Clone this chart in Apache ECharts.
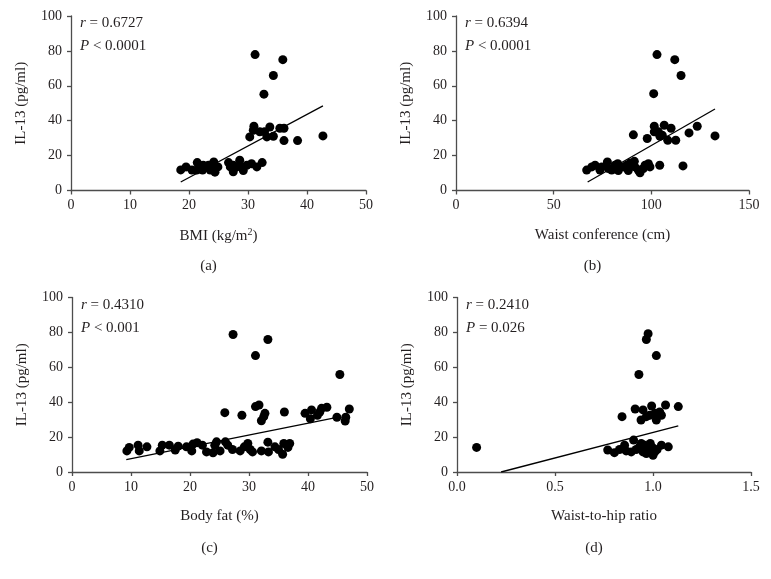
<!DOCTYPE html>
<html>
<head>
<meta charset="utf-8">
<script src="https://cdn.jsdelivr.net/npm/echarts@6/dist/echarts.min.js"></script>
<style>html,body{margin:0;padding:0;background:#fff}#c{width:771px;height:579px}</style>
</head>
<body>
<div id="c"></div>
<script>
// ---- Data ----
const bmiX = [31.2,35.9,34.3,32.7,42.7,38.4,36.1,36.1,35.4,33.7,33.2,34.3,31.0,30.9,30.3,32.0,32.8,
  18.6,19.5,20.5,21.4,21.3,22.3,22.4,23.3,23.6,24.2,24.2,24.4,24.9,26.7,27.0,27.5,28.1,28.6,28.9,29.2,29.8,30.6,31.5,32.4,27.5];
const bmiY = [77.9,75.0,65.9,55.2,31.3,28.6,28.6,35.7,35.7,36.4,30.7,31.1,36.8,34.5,30.7,33.6,33.6,
  11.8,13.5,11.7,16.0,11.7,11.7,14.5,14.5,11.7,16.4,11.7,10.5,13.5,16.0,13.5,10.7,13.5,17.4,13.5,11.4,14.5,15.3,13.5,16.0,14.5];
const bmiTrend = [[18.6,4.9],[42.7,48.5]];

const waistX = [102.9,112.0,115.2,101.2,132.6,123.5,119.3,112.5,108.4,110.1,106.6,101.5,101.5,103.6,104.4,105.6,90.8,97.9,104.3,116.2,
  66.9,69.5,71.2,73.7,74.6,77.5,78.0,79.7,81.4,82.8,83.1,85.7,88.2,89.1,91.3,91.6,93.3,94.2,95.9,96.8,98.5,99.3,87.4];
const waistY = [77.9,75.0,65.9,55.5,31.3,36.8,33.0,28.8,28.8,35.7,37.4,36.8,33.6,33.6,31.1,31.7,31.9,29.8,14.5,14.1,
  11.7,13.5,14.5,11.7,13.5,16.4,12.6,11.7,14.5,15.3,11.4,13.5,11.4,15.7,16.7,13.5,11.7,10.2,12.6,14.5,15.3,13.5,14.5];
const waistTrend = [[67.4,4.9],[132.6,46.7]];

const fatX = [27.3,33.2,31.1,45.4,31.1,31.7,25.9,28.8,32.7,32.5,32.1,36.0,39.5,40.6,40.4,41.6,42.3,43.2,42.0,44.9,46.4,46.3,47.0,
  9.3,9.7,11.2,11.4,12.7,14.9,15.3,16.5,17.5,18.0,19.4,20.3,20.5,21.2,22.1,22.8,23.9,24.2,24.5,25.1,26.0,26.4,27.2,28.5,29.2,29.8,30.2,30.6,32.1,33.3,33.2,34.4,35.0,35.7,35.9,36.9,36.6];
const fatY = [78.8,75.9,66.7,55.9,37.5,38.4,34.0,32.5,33.6,31.7,29.4,34.4,33.6,35.6,30.5,32.5,36.5,37.1,34.4,31.4,31.4,29.2,36.1,
  12.1,14.1,15.4,12.1,14.4,12.1,15.4,15.4,12.6,14.8,14.4,12.1,16.0,16.8,15.4,11.5,11.0,15.4,17.3,12.1,17.3,15.4,12.9,12.1,14.4,16.3,12.9,11.5,12.1,11.5,17.1,14.4,12.9,10.2,16.3,16.3,14.1];
const fatTrend = [[9.2,7.1],[44.3,30.9]];

const whrX = [0.10,0.975,0.966,1.017,0.928,1.129,1.064,0.993,0.909,0.949,0.842,0.939,0.983,1.010,1.034,1.017,1.043,0.966,
  0.769,0.803,0.829,0.855,0.863,0.889,0.901,0.914,0.931,0.949,0.957,0.966,0.974,0.986,0.996,1.009,1.021,1.043,1.078,0.940,1.000];
const whrY = [14.1,79.2,75.9,66.7,55.9,37.5,38.4,37.8,36.1,35.6,31.7,29.8,32.5,33.6,34.4,29.8,32.5,31.7,
  12.6,11.1,12.9,15.4,12.1,11.5,18.3,12.9,14.4,11.5,15.4,10.6,12.9,16.3,14.1,11.5,12.9,15.4,14.4,16.3,9.6];
const whrTrend = [[0.225,0.0],[1.129,26.5]];

const xNames = ['BMI (kg/m{s|2})', 'Waist conference (cm)', 'Body fat (%)', 'Waist-to-hip ratio'];
const xMax = [50, 150, 50, 1.5];
const xInterval = [10, 50, 10, 0.5];
const rValues = ['0.6727', '0.6394', '0.4310', '0.2410'];
const pTexts = ['< 0.0001', '< 0.0001', '< 0.001', '= 0.026'];
const captions = ['(a)', '(b)', '(c)', '(d)'];
const yName = 'IL-13 (pg/ml)';

// ---- Chart ----
const FONT = '"Liberation Serif", "DejaVu Serif", serif';
const TXT = '#231f20';
const AX = '#4d4d4d';
const grids = [
  {left: 71, top: 16, width: 295, height: 174.5},
  {left: 456, top: 16, width: 293, height: 174.5},
  {left: 72, top: 297.5, width: 295, height: 174.5},
  {left: 457, top: 297.5, width: 294, height: 174.5}
];
const pts = [[bmiX,bmiY],[waistX,waistY],[fatX,fatY],[whrX,whrY]];
const trends = [bmiTrend, waistTrend, fatTrend, whrTrend];

const chart = echarts.init(document.getElementById('c'), null, {renderer: 'canvas'});
const xAxis = [], yAxis = [], series = [], graphic = [];
grids.forEach((g, i) => {
  xAxis.push({
    gridIndex: i, type: 'value', min: 0, max: xMax[i], interval: xInterval[i],
    name: xNames[i], nameLocation: 'middle', nameGap: 37,
    nameTextStyle: {fontFamily: FONT, fontSize: 15, color: TXT, rich: {s: {fontSize: 10, verticalAlign: 'top', padding: [0,0,8,0], fontFamily: FONT, color: TXT}}},
    axisLine: {show: true, lineStyle: {color: AX, width: 1.3}},
    axisTick: {show: true, inside: false, length: 4, lineStyle: {color: AX, width: 1.3}},
    axisLabel: {fontFamily: FONT, fontSize: 14, color: TXT, margin: 8,
      formatter: v => i === 3 ? v.toFixed(1) : String(v)},
    splitLine: {show: false}
  });
  yAxis.push({
    gridIndex: i, type: 'value', min: 0, max: 100, interval: 20,
    name: yName, nameLocation: 'middle', nameGap: 42, nameRotate: 90,
    nameTextStyle: {fontFamily: FONT, fontSize: 15, color: TXT},
    axisLine: {show: true, lineStyle: {color: AX, width: 1.3}},
    axisTick: {show: true, inside: false, length: 4, lineStyle: {color: AX, width: 1.3}},
    axisLabel: {fontFamily: FONT, fontSize: 14, color: TXT, margin: 9},
    splitLine: {show: false}
  });
  const [xs, ys] = pts[i];
  series.push({
    type: 'scatter', xAxisIndex: i, yAxisIndex: i,
    data: xs.map((x, k) => [x, ys[k]]),
    symbol: 'circle', symbolSize: 9,
    itemStyle: {color: '#000', opacity: 1}, silent: true, z: 3
  });
  series.push({
    type: 'line', xAxisIndex: i, yAxisIndex: i,
    data: trends[i], symbol: 'none',
    lineStyle: {color: '#000', width: 1.3}, silent: true, z: 4
  });
  graphic.push({
    type: 'text', left: g.left + 9, top: g.top,
    style: {text: '{i|r} = ' + rValues[i], rich: {i: {fontStyle: 'italic', fontFamily: FONT, fontSize: 15, fill: TXT}},
      fontFamily: FONT, fontSize: 15, fill: TXT}
  });
  graphic.push({
    type: 'text', left: g.left + 9, top: g.top + 23,
    style: {text: '{i|P} ' + pTexts[i], rich: {i: {fontStyle: 'italic', fontFamily: FONT, fontSize: 15, fill: TXT}},
      fontFamily: FONT, fontSize: 15, fill: TXT}
  });
  graphic.push({
    type: 'text', x: g.left + g.width / 2 - 10, y: g.top + g.height + 76,
    style: {text: captions[i], fontFamily: FONT, fontSize: 15, fill: TXT, align: 'center', verticalAlign: 'middle'}
  });
});

chart.setOption({
  animation: false,
  backgroundColor: '#fff',
  grid: grids,
  xAxis, yAxis, series, graphic
});
</script>
</body>
</html>
